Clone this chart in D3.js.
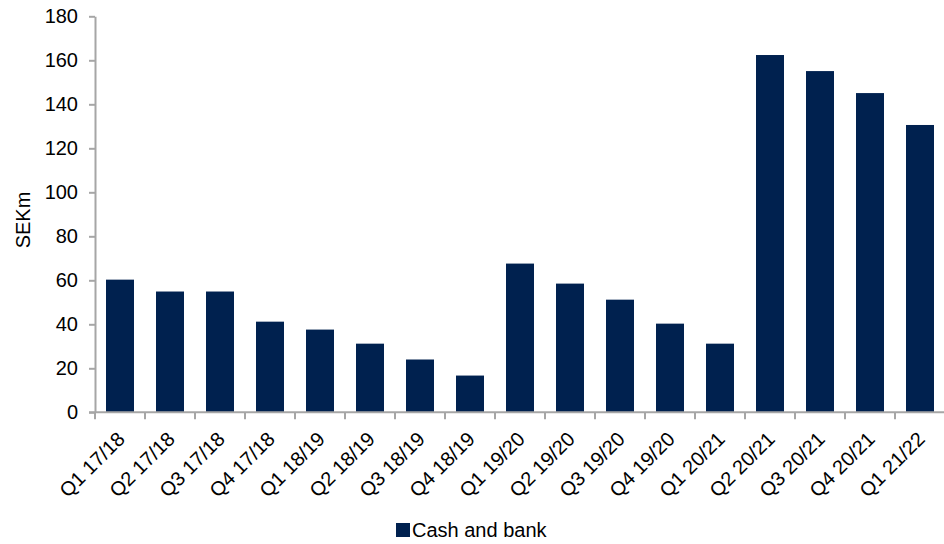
<!DOCTYPE html>
<html><head><meta charset="utf-8">
<script src="https://cdn.jsdelivr.net/npm/d3@7"></script>
<style>body{margin:0;background:#fff}svg{display:block}text{font-family:"Liberation Sans",Arial,sans-serif;fill:#000}</style>
</head><body><svg id="c" width="944" height="544"></svg>
<script>
const categories = ["Q1 17/18","Q2 17/18","Q3 17/18","Q4 17/18","Q1 18/19","Q2 18/19","Q3 18/19","Q4 18/19","Q1 19/20","Q2 19/20","Q3 19/20","Q4 19/20","Q1 20/21","Q2 20/21","Q3 20/21","Q4 20/21","Q1 21/22"];
const cashAndBank = [60.3,54.9,54.9,41.2,37.6,31.2,24,16.7,67.6,58.5,51.2,40.3,31.2,162.4,155.1,145.1,130.6];
const yTicks = [0,20,40,60,80,100,120,140,160,180];
const seriesName = "Cash and bank";
const yTitle = "SEKm";

const svg = d3.select("#c");
const FS = 20;
const x = d3.scaleBand().domain(categories).range([95, 945]).paddingInner(0.44).paddingOuter(0.22);
const y = d3.scaleLinear().domain([0,180]).range([412.3, 16.3]);
const axisColor = "#a6a6a6";
const barColor = "#00214f";

svg.append("g").selectAll("rect").data(cashAndBank).join("rect")
  .attr("x",(d,i)=>x(categories[i])).attr("width",x.bandwidth())
  .attr("y",d=>y(d)).attr("height",d=>y(0)-y(d))
  .attr("fill",barColor);

// y axis
const ya = svg.append("g").attr("transform","translate(95,0)")
  .call(d3.axisLeft(y).tickValues(yTicks).tickSize(6).tickPadding(11).tickSizeOuter(0));
ya.select(".domain").attr("stroke",axisColor).attr("stroke-width",2);
ya.selectAll(".tick line").attr("stroke",axisColor).attr("stroke-width",2);
ya.selectAll(".tick text").attr("font-size",FS).attr("font-family","Liberation Sans, Arial, sans-serif").attr("fill","#000");

// x axis: line and boundary ticks
const xg = svg.append("g");
xg.append("line").attr("x1",89).attr("x2",945).attr("y1",y(0)).attr("y2",y(0)).attr("stroke",axisColor).attr("stroke-width",2);
const step = x.step();
const start = x.range()[0];
const bounds = d3.range(categories.length+1).map(i=>start + i*step);
xg.selectAll("line.t").data(bounds).join("line").attr("class","t")
  .attr("x1",d=>d).attr("x2",d=>d).attr("y1",y(0)).attr("y2",y(0)+7)
  .attr("stroke",axisColor).attr("stroke-width",2);
xg.selectAll("text").data(categories).join("text")
  .attr("transform",d=>`translate(${x(d)+x.bandwidth()/2+6},${y(0)+28}) rotate(-45)`)
  .attr("text-anchor","end").attr("font-size",FS).text(d=>d);

svg.append("text").attr("transform","translate(30,220) rotate(-90)")
  .attr("text-anchor","middle").attr("font-size",FS).text(yTitle);

// legend
svg.append("rect").attr("x",396).attr("y",523).attr("width",14).attr("height",14).attr("fill",barColor);
svg.append("text").attr("x",412).attr("y",537).attr("font-size",FS).text(seriesName);
</script></body></html>
